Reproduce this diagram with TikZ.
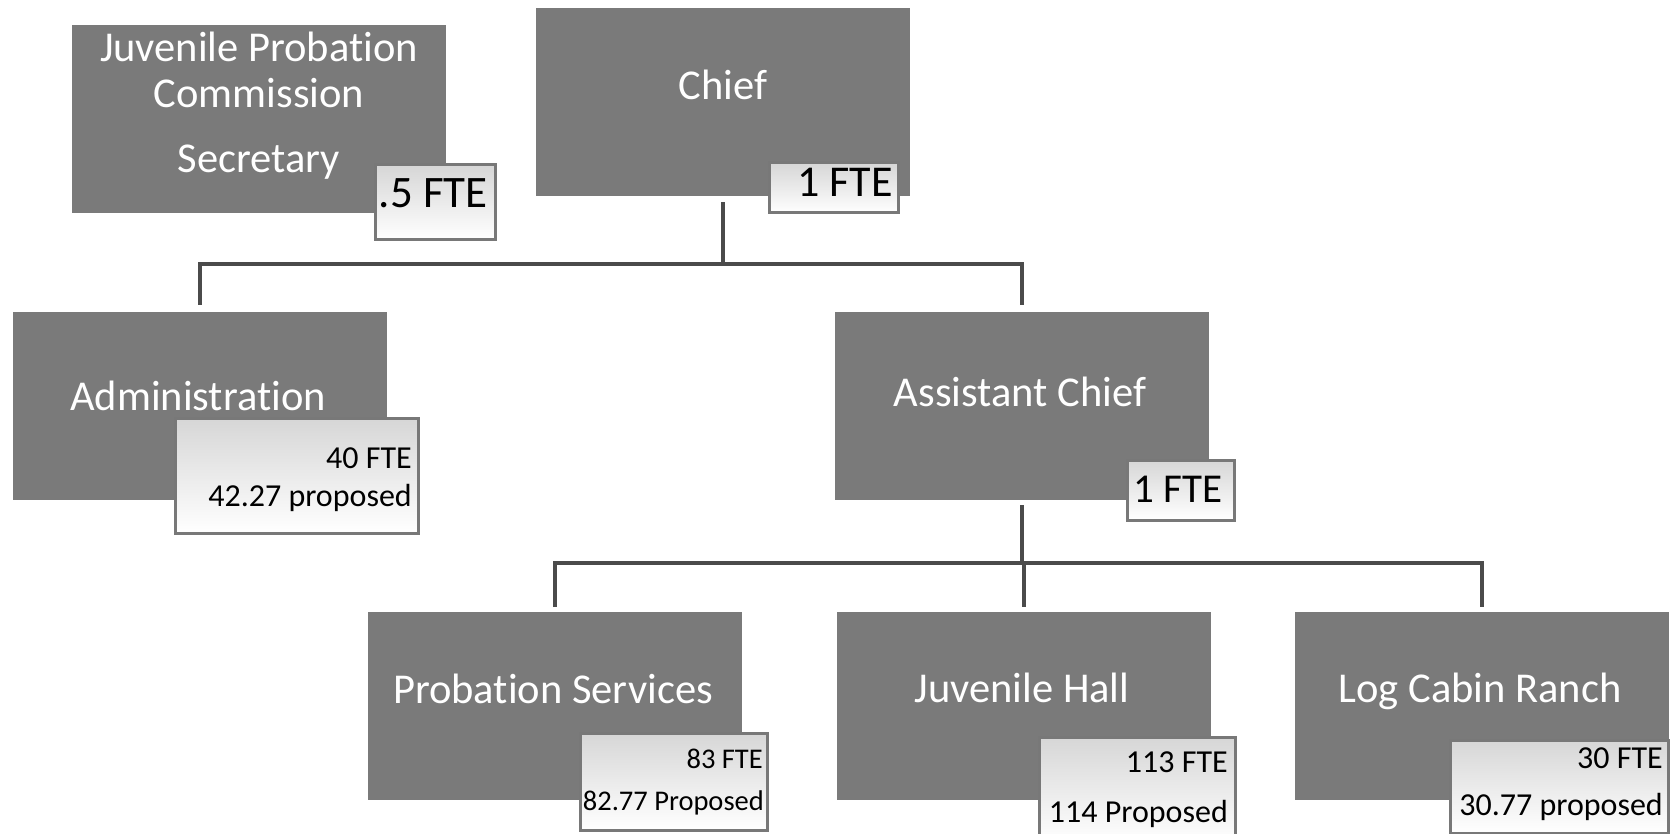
\documentclass[tikz,border=0pt]{standalone}
\usepackage{fontspec}
\setmainfont{Carlito}[Ligatures=NoCommon]
\definecolor{boxgray}{RGB}{122,122,122}
\definecolor{connc}{RGB}{75,75,75}
\definecolor{ftebord}{RGB}{120,120,120}
\begin{document}
\begin{tikzpicture}[x=1pt,y=-1pt,
  box/.style={fill=boxgray, minimum width=374pt, minimum height=188pt, inner sep=0pt, outer sep=0pt},
  lbl/.style={text=white, inner sep=0pt, font=\fontsize{42.5}{50}\selectfont, anchor=base},
  fte/.style={draw=ftebord, line width=3pt, top color=black!16, bottom color=white, inner sep=0pt, outer sep=0pt},
  ftxt/.style={text=black, inner sep=0pt, anchor=base east},
  conn/.style={draw=connc, line width=4pt, line join=miter}
]
\useasboundingbox[fill=white] (0,0) rectangle (1671,834);

% main boxes
\node[box] (jpc) at (258.5,119) {};
\node[box] (chief) at (723,102.5) {};
\node[box] (admin) at (200,406) {};
\node[box] (asst) at (1021.5,406) {};
\node[box] (prob) at (555,706) {};
\node[box] (hall) at (1023.5,706) {};
\node[box] (ranch) at (1481.5,706) {};

% labels
\node[lbl] (jpcL1) at (259,62) {Juvenile Probation};
\node[lbl] (jpcL2) at (259,108) {Commission};
\node[lbl] (jpcL3) at (259,173) {Secretary};
\node[lbl] (chiefL) at (723,100) {Chief};
\node[lbl] (adminL) at (198,410) {Administration};
\node[lbl] (asstL) at (1020,406) {Assistant Chief};
\node[lbl] (probL) at (553,703) {Probation Services};
\node[lbl] (hallL) at (1022,702) {Juvenile Hall};
\node[lbl] (ranchL) at (1480,702) {Log Cabin Ranch};

% FTE boxes
\node[fte, minimum width=120pt, minimum height=75pt] (jpcF) at (435,202.5) {};
\node[fte, minimum width=129pt, minimum height=50pt] (chiefF) at (833.5,188) {};
\node[fte, minimum width=107pt, minimum height=60pt] (asstF) at (1180.5,490) {};
\node[fte, minimum width=243pt, minimum height=115pt] (adminF) at (296.5,475.5) {};
\node[fte, minimum width=187pt, minimum height=97pt] (probF) at (673.5,781.5) {};
\node[fte, minimum width=196pt, minimum height=106pt] (hallF) at (1137,790) {};
\node[fte, minimum width=218pt, minimum height=93pt] (ranchF) at (1559,786.5) {};

% FTE texts
\node[ftxt, font=\fontsize{45}{52}\selectfont] (jpcT) at (488,208) {.5 FTE};
\node[ftxt, font=\fontsize{44}{50}\selectfont] (chiefT) at (893,197) {1 FTE};
\node[ftxt, font=\fontsize{41}{48}\selectfont] (asstT) at (1223,502) {1 FTE};
\node[ftxt, font=\fontsize{32}{38}\selectfont] (adminT1) at (412,468) {40 FTE};
\node[ftxt, font=\fontsize{32}{38}\selectfont] (adminT2) at (412,506) {42.27 proposed};
\node[ftxt, font=\fontsize{28.5}{34}\selectfont] (probT1) at (763,768) {83 FTE};
\node[ftxt, font=\fontsize{28.5}{34}\selectfont] (probT2) at (764,810) {82.77 Proposed};
\node[ftxt, font=\fontsize{32}{38}\selectfont] (hallT1) at (1228,772) {113 FTE};
\node[ftxt, font=\fontsize{32}{38}\selectfont] (hallT2) at (1228,822) {114 Proposed};
\node[ftxt, font=\fontsize{32}{38}\selectfont] (ranchT1) at (1663,768) {30 FTE};
\node[ftxt, font=\fontsize{32}{38}\selectfont] (ranchT2) at (1663,815) {30.77 proposed};

% connectors
\coordinate (busA) at (0,264);
\coordinate (busB) at (0,563);
\draw[conn] ([yshift=-6pt]chief.south) -- (chief.south |- busA);
\draw[conn] ([yshift=7pt]admin.north) -- (admin.north |- busA) -- (asst.north |- busA) -- ([yshift=7pt]asst.north);
\draw[conn] ([yshift=-5pt]asst.south) -- (asst.south |- busB);
\draw[conn] ([yshift=5pt]prob.north) -- (prob.north |- busB) -- (ranch.north |- busB) -- ([yshift=5pt]ranch.north);
\draw[conn] (hall.north |- busB) -- ([yshift=5pt]hall.north);
\end{tikzpicture}
\end{document}
